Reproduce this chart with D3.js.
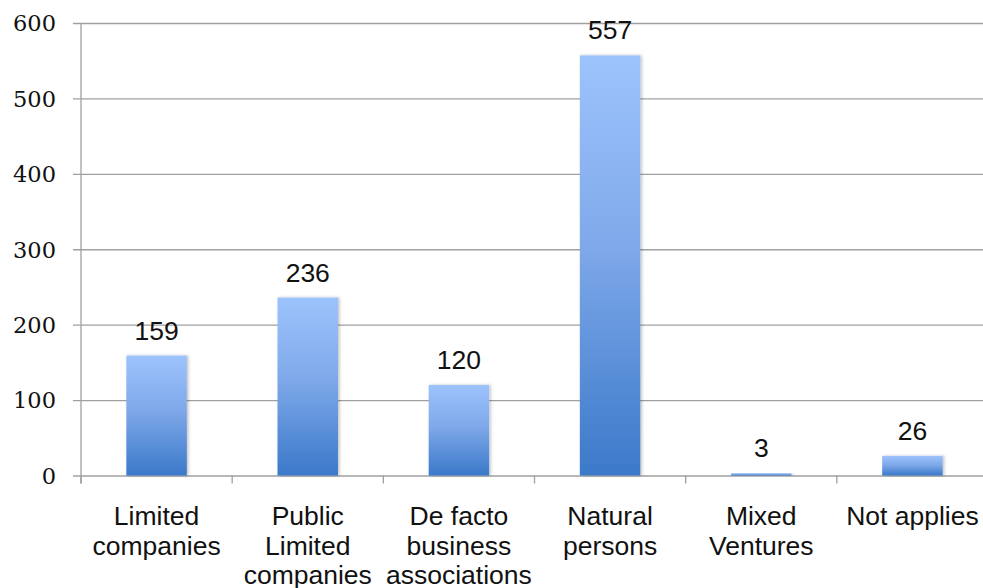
<!DOCTYPE html>
<html>
<head>
<meta charset="utf-8">
<script src="https://cdn.jsdelivr.net/npm/d3@7"></script>
<style>
  html, body { margin: 0; padding: 0; background: #fff; }
  svg { display: block; }
</style>
</head>
<body>
<svg id="chart" width="983" height="588"></svg>
<script>
// Legal form of the entities and their counts
const categories = [
  "Limited\ncompanies",
  "Public\nLimited\ncompanies",
  "De facto\nbusiness\nassociations",
  "Natural\npersons",
  "Mixed\nVentures",
  "Not applies"
];
const values = [159, 236, 120, 557, 3, 26];
const yTicks = [0, 100, 200, 300, 400, 500, 600];

const svg = d3.select("#chart");
const plotLeft = 81, plotRight = 988, plotTop = 23, plotBottom = 475.5;

const x = d3.scaleBand()
  .domain(categories)
  .range([plotLeft, plotRight])
  .paddingInner(0.6)
  .paddingOuter(0.3);

const y = d3.scaleLinear().domain([0, 600]).range([plotBottom, plotTop]);

const defs = svg.append("defs");
const grad = defs.append("linearGradient")
  .attr("id", "barFill")
  .attr("x1", 0).attr("y1", 0).attr("x2", 0).attr("y2", 1);
grad.append("stop").attr("offset", "0%").attr("stop-color", "#9DC3FC");
grad.append("stop").attr("offset", "45%").attr("stop-color", "#7FA9EA");
grad.append("stop").attr("offset", "100%").attr("stop-color", "#3B79C9");

const shadow = defs.append("filter").attr("id", "barShadow")
  .attr("x", "-20%").attr("y", "-5%").attr("width", "140%").attr("height", "110%");
shadow.append("feDropShadow")
  .attr("dx", 1.5).attr("dy", 0).attr("stdDeviation", 1.5)
  .attr("flood-color", "#000").attr("flood-opacity", 0.25);

const gridColor = "#a0a0a0";

// horizontal gridlines with left tick marks
const yAxis = d3.axisLeft(y)
  .tickValues(yTicks)
  .tickSize(-(plotRight - plotLeft))
  .tickPadding(0)
  .tickFormat(d => d);
const gy = svg.append("g").attr("transform", `translate(${plotLeft},0)`).call(yAxis);
gy.select(".domain").remove();
gy.selectAll(".tick line")
  .attr("x1", -8)
  .attr("stroke", gridColor).attr("stroke-width", 1.3);
gy.selectAll(".tick text")
  .attr("x", -25)
  .attr("dy", "0.35em")
  .attr("font-family", "'DejaVu Serif', serif")
  .attr("font-size", 22.5)
  .attr("fill", "#111")
  .attr("text-anchor", "end");

// vertical axis line
svg.append("line")
  .attr("x1", plotLeft).attr("x2", plotLeft)
  .attr("y1", plotTop).attr("y2", plotBottom + 8)
  .attr("stroke", gridColor).attr("stroke-width", 1.3);

// category boundary ticks below the baseline
const step = x.step();
const boundaries = d3.range(categories.length + 1).map(i => plotLeft + i * step);
svg.append("g").selectAll("line").data(boundaries).join("line")
  .attr("x1", d => d).attr("x2", d => d)
  .attr("y1", plotBottom).attr("y2", plotBottom + 8)
  .attr("stroke", gridColor).attr("stroke-width", 1.3);

// bars
svg.append("g").selectAll("rect").data(values).join("rect")
  .attr("x", (d, i) => x(categories[i]))
  .attr("width", x.bandwidth())
  .attr("y", d => y(d))
  .attr("height", d => y(0) - y(d))
  .attr("fill", "url(#barFill)")
  .attr("filter", "url(#barShadow)");

// value labels
svg.append("g").selectAll("text").data(values).join("text")
  .attr("x", (d, i) => x(categories[i]) + x.bandwidth() / 2)
  .attr("y", d => y(d) - 16)
  .attr("text-anchor", "middle")
  .attr("font-family", "'Liberation Sans', Arial, sans-serif")
  .attr("font-size", 26.5)
  .attr("fill", "#111")
  .text(d => d);

// category labels
const labels = svg.append("g").selectAll("text").data(categories).join("text")
  .attr("x", d => x(d) + x.bandwidth() / 2)
  .attr("y", 525)
  .attr("text-anchor", "middle")
  .attr("font-family", "'Liberation Sans', Arial, sans-serif")
  .attr("font-size", 26.5)
  .attr("fill", "#111");
labels.each(function(d) {
  const t = d3.select(this);
  d.split("\n").forEach((line, i) => {
    t.append("tspan")
      .attr("x", x(d) + x.bandwidth() / 2)
      .attr("dy", i === 0 ? 0 : 29.5)
      .text(line);
  });
});
</script>
</body>
</html>
